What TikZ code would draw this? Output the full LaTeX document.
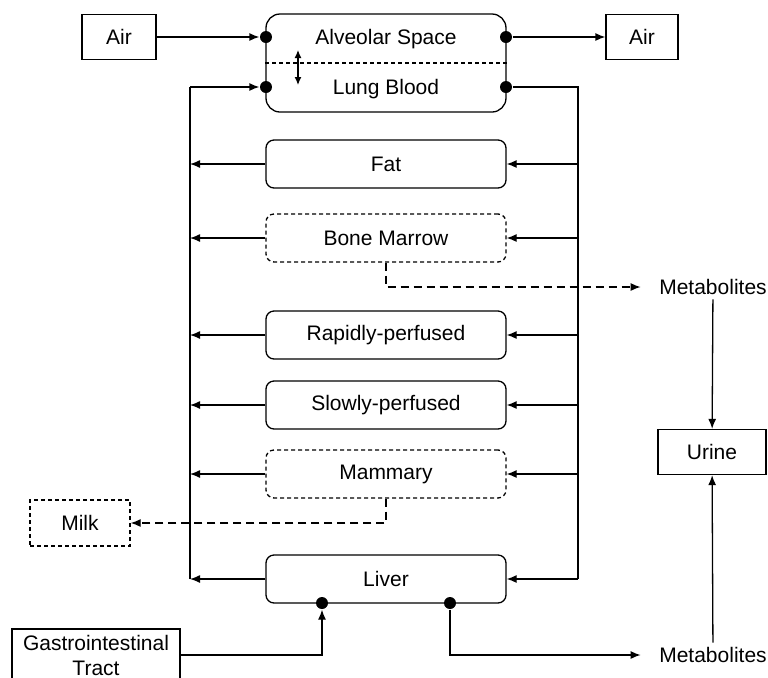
\documentclass[tikz,border=0pt]{standalone}
\usepackage{fontspec}
\setmainfont{Liberation Sans}
\usetikzlibrary{arrows.meta}
\begin{document}
\begin{tikzpicture}[x=0.5pt,y=-0.5pt,line width=0.65pt,
  every node/.style={font=\fontsize{10.5}{12.5}\selectfont},
  organ/.style={draw,rounded corners=4pt,minimum width=120pt,minimum height=24pt,inner sep=0pt},
  organdash/.style={organ,dash pattern=on 2pt off 1.5pt},
  extbox/.style={draw,minimum height=22.5pt,inner sep=0pt},
  metab/.style={inner xsep=9pt,inner ysep=2pt},
  flow/.style={-{Latex[length=5pt,width=4pt]}},
  dashflow/.style={flow,dash pattern=on 4pt off 2.5pt},
  joint/.style={circle,fill,inner sep=0pt,minimum size=6pt}]
  \useasboundingbox (0,0) rectangle (768,677);
  % lung
  \node[organ,rounded corners=7pt,minimum height=49pt] (lung) at (386,63) {};
  \node (alv) at (386,39) {Alveolar Space};
  \node (blood) at (386,89) {Lung Blood};
  \draw[dash pattern=on 2pt off 1.5pt] (lung.west) -- (lung.east);
  \draw[{Latex[length=4pt,width=3.5pt]}-{Latex[length=4pt,width=3.5pt]}] (298,50) -- (298,85);
  \node[extbox,minimum width=37pt] (airin) at (119,37) {Air};
  \node[extbox,minimum width=36pt] (airout) at (642,37) {Air};
  \node[joint] (d1) at (266,37) {};
  \node[joint] (d2) at (506,37) {};
  \node[joint] (d3) at (266,87) {};
  \node[joint] (d4) at (506,87) {};
  % tissues
  \node[organ] (fat) at (386,164) {Fat};
  \node[organdash] (bone) at (386,238) {Bone Marrow};
  \node[organ] (rapid) at (386,335) {Rapidly-perfused};
  \node[organ] (slow) at (386,405) {Slowly-perfused};
  \node[organdash] (mamm) at (386,474) {Mammary};
  \node[organ] (liver) at (386,579) {Liver};
  \node[joint] (d5) at (322,603) {};
  \node[joint] (d6) at (450,603) {};
  % outputs
  \node[metab] (met1) at (713,287) {Metabolites};
  \node[metab] (met2) at (713,655) {Metabolites};
  \node[extbox,minimum width=54pt] (urine) at (712,452) {Urine};
  \node[extbox,minimum width=50pt,minimum height=23pt,dash pattern=on 2pt off 1.5pt] (milk) at (80,523) {Milk};
  \node[draw,align=center,minimum width=84pt,minimum height=26pt,inner sep=2pt] (gi) at (96,655) {Gastrointestinal\\Tract};
  % blood lines
  \coordinate (ltop) at (190,87);
  \coordinate (lbot) at (190,579);
  \coordinate (rtop) at (578,87);
  \coordinate (rbot) at (578,579);
  \draw[flow] (airin) -- (d1);
  \draw[flow] (d2) -- (airout);
  \draw[flow] (ltop) -- (d3);
  \draw (d4) -- (rtop) -- (rbot);
  \draw[flow] (rbot) -- (liver);
  \draw[flow] (liver) -- (lbot);
  \draw (lbot) -- (ltop);
  \foreach \t in {fat,bone,rapid,slow,mamm}{
    \draw[flow] (\t.west) -- (\t.west -| lbot);
    \draw[flow] (\t.east -| rbot) -- (\t.east);
  }
  \draw[dashflow] (bone.south) |- (met1.west);
  \draw[dashflow] (mamm.south) |- (milk.east);
  \draw[flow] (met1) -- (urine);
  \draw[flow] (met2) -- (urine);
  \draw[flow] (gi) -| (d5);
  \draw[flow] (d6) |- (met2.west);
\end{tikzpicture}
\end{document}
